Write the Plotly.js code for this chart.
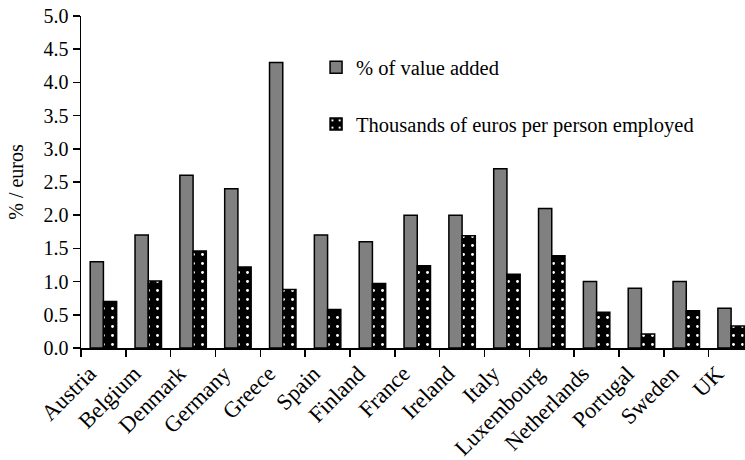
<!DOCTYPE html>
<html>
<head>
<meta charset="utf-8">
<script src="https://cdn.plot.ly/plotly-3.0.1.min.js"></script>
<style>html,body{margin:0;padding:0;background:#fff;}#chart{width:745px;height:460px;}</style>
</head>
<body>
<div id="chart"></div>
<script>
var countries = ["Austria","Belgium","Denmark","Germany","Greece","Spain","Finland","France","Ireland","Italy","Luxembourg","Netherlands","Portugal","Sweden","UK"];
var valueAddedPct = [1.3, 1.7, 2.6, 2.4, 4.3, 1.7, 1.6, 2.0, 2.0, 2.7, 2.1, 1.0, 0.9, 1.0, 0.6];
var thousandEurosPerPerson = [0.70, 1.01, 1.46, 1.22, 0.88, 0.58, 0.97, 1.24, 1.69, 1.11, 1.39, 0.54, 0.21, 0.56, 0.33];
var seriesNames = ["% of value added", "Thousands of euros per person employed"];
var yTicks = [0, 0.5, 1.0, 1.5, 2.0, 2.5, 3.0, 3.5, 4.0, 4.5, 5.0];

var traces = [
  {
    type: 'bar', x: countries, y: valueAddedPct, name: seriesNames[0], legendgroup: 'a',
    marker: {color: '#808080', line: {color: '#000', width: 1.5}}
  },
  {
    type: 'bar', x: countries, y: thousandEurosPerPerson, name: seriesNames[1], legendgroup: 'b',
    marker: {color: '#000', line: {color: '#000', width: 1.5},
      pattern: {shape: '.', fgcolor: '#ffffff', bgcolor: '#000000', size: 9, solidity: 0.08}}
  }
];

var layout = {
  width: 745, height: 460,
  margin: {l: 81, r: 0, t: 16, b: 112},
  paper_bgcolor: '#fff', plot_bgcolor: '#fff',
  font: {family: 'Liberation Serif', size: 20, color: '#000'},
  barmode: 'group', bargap: 0.41, bargroupgap: 0,
  showlegend: true,
  legend: {x: 0.354, xanchor: 'left', y: 0.905, yanchor: 'top', bgcolor: 'rgba(0,0,0,0)',
    tracegroupgap: 27, font: {size: 20.5}},
  xaxis: {
    type: 'category', range: [-0.5, 14.31], tickson: 'boundaries',
    ticks: 'outside', ticklen: 7, tickwidth: 1.5, tickcolor: '#000',
    showline: true, linecolor: '#000', linewidth: 1.5, showgrid: false,
    tickangle: -45, ticklabelstandoff: 2, ticklabelshift: -14, tickfont: {size: 22.5}
  },
  yaxis: {
    range: [0, 5], tickvals: yTicks, tickformat: '.1f',
    ticks: 'outside', ticklen: 7, tickwidth: 1.5, tickcolor: '#000',
    showline: true, linecolor: '#000', linewidth: 1.5, showgrid: false, zeroline: false,
    title: {text: '% / euros', font: {size: 20}, standoff: 14}
  }
};

Plotly.newPlot('chart', traces, layout, {displayModeBar: false, staticPlot: true});
</script>
</body>
</html>
